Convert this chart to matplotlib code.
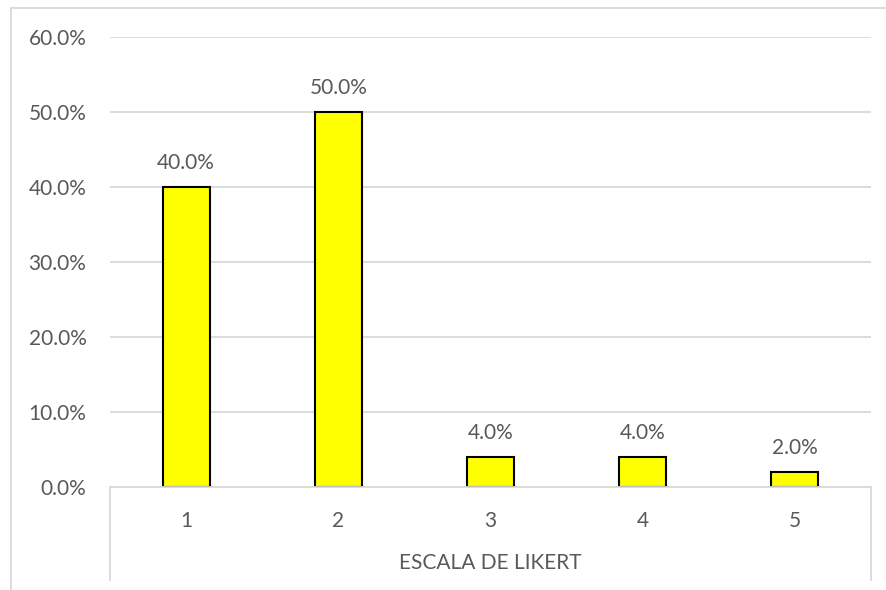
import matplotlib.pyplot as plt
from matplotlib.lines import Line2D

# Likert scale responses
categories = ["1", "2", "3", "4", "5"]
shares = [40.0, 50.0, 4.0, 4.0, 2.0]
y_ticks = [0, 10, 20, 30, 40, 50, 60]
axis_title = "ESCALA DE LIKERT"

W, H = 886, 590
text_col = "#595959"
line_col = "#d9d9d9"

plt.rcParams['font.family'] = ['Lato', 'DejaVu Sans']

fig = plt.figure(figsize=(W / 100, H / 100), dpi=100)


def fx(px):
    return px / W


def fy(py):
    return 1 - py / H


# plot area in pixel coordinates
left, right, top, base = 110, 871, 37, 487
ax = fig.add_axes([fx(left), fy(base), fx(right - left), fy(top) - fy(base)])

x = range(len(categories))
ax.bar(x, shares, width=0.31, color="#ffff00", edgecolor="black", linewidth=1.5, zorder=3)
for xi, v in zip(x, shares):
    ax.annotate(f"{v:.1f}%", (xi, v), xytext=(0, 10), textcoords="offset points",
                ha="center", va="bottom", fontsize=15, color=text_col)

ax.set_xlim(-0.5, len(categories) - 0.5)
ax.set_ylim(0, 60)
ax.set_yticks(y_ticks)
ax.set_yticklabels([f"{t:.1f}%" for t in y_ticks])
ax.set_xticks(list(x))
ax.set_xticklabels(categories)
ax.tick_params(axis="y", length=0, pad=17, labelsize=15, labelcolor=text_col)
ax.tick_params(axis="x", length=0, pad=17, labelsize=15, labelcolor=text_col)
ax.grid(axis="y", color=line_col, linewidth=1.3, zorder=0)
for s in ["top", "right", "left"]:
    ax.spines[s].set_visible(False)
ax.spines["bottom"].set_color(line_col)
ax.spines["bottom"].set_linewidth(1.3)
ax.spines["bottom"].set_zorder(4)

# category box below the axis
for px in (left, right):
    fig.add_artist(Line2D([fx(px), fx(px)], [fy(base), fy(580)], color=line_col, lw=1.3))
fig.text(fx((left + right) / 2), fy(563), axis_title, ha="center", va="center",
         fontsize=15, color=text_col)

# chart frame
fig.add_artist(Line2D([fx(10.5), fx(10.5)], [fy(7.5), 0], color=line_col, lw=1.3))
fig.add_artist(Line2D([fx(10.5), 1], [fy(7.5), fy(7.5)], color=line_col, lw=1.3))

fig.savefig("out.png", dpi=100)
